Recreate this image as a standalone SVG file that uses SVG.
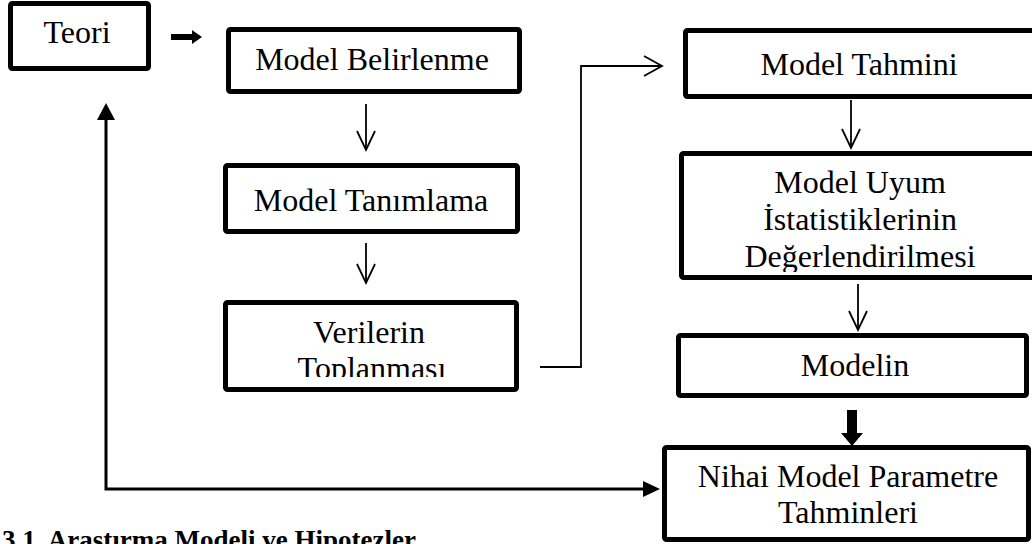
<svg xmlns="http://www.w3.org/2000/svg" width="1032" height="544" viewBox="0 0 1032 544">
<style>
.box{fill:#fff;stroke:#000;stroke-width:5;stroke-linejoin:round}
.t{font-family:"Liberation Serif","Times New Roman",serif;font-size:32px;fill:#000;text-anchor:middle}
.cap{font-family:"Liberation Serif","Times New Roman",serif;font-size:27px;font-weight:bold;fill:#000}
.thin{fill:none;stroke:#000;stroke-width:1.8}
.open{fill:none;stroke:#000;stroke-width:1.8;stroke-linejoin:miter}
.loop{fill:none;stroke:#000;stroke-width:3}
.solid{fill:#000;stroke:none}
</style>
<defs>
<clipPath id="clipVer"><rect x="228" y="305" width="286" height="72"/></clipPath>
<clipPath id="clipUyum"><rect x="684" y="156" width="348" height="116"/></clipPath>
</defs>
<rect width="1032" height="544" fill="#fff"/>
<g id="connectors">
<polygon class="solid" points="171,34 192,34 192,30 202,37 192,44 192,40 171,40"/>
<line class="thin" x1="366" y1="104" x2="366" y2="149"/>
<polyline class="open" points="357,131 366,150 375,131"/>
<line class="thin" x1="366" y1="243" x2="366" y2="282"/>
<polyline class="open" points="357,264 366,283 375,264"/>
<polyline class="thin" points="540,367 581,367 581,66 661,66"/>
<polyline class="open" points="644,56 662,66 644,76"/>
<line class="thin" x1="851" y1="100" x2="851" y2="147"/>
<polyline class="open" points="842,129 851,148 860,129"/>
<line class="thin" x1="858" y1="284" x2="858" y2="329"/>
<polyline class="open" points="849,311 858,330 867,311"/>
<polygon class="solid" points="847,410 857,410 857,433 863,433 852,446 841,433 847,433"/>
<polyline class="loop" points="106,118 106,489 645,489"/>
<polygon class="solid" points="97,120 106,103 115,120"/>
<polygon class="solid" points="643,481 660,489 643,497"/>
</g>
<g id="teori">
<rect class="box" x="10.5" y="3.5" width="138" height="65" rx="2"/>
<text class="t" x="77" y="43">Teori</text>
</g>
<g id="model-belirlenme">
<rect class="box" x="228.5" y="29.5" width="291" height="62" rx="2"/>
<text class="t" x="372" y="70">Model Belirlenme</text>
</g>
<g id="model-tanimlama">
<rect class="box" x="225.5" y="165.5" width="292" height="66" rx="2"/>
<text class="t" x="371" y="211">Model Tanımlama</text>
</g>
<g id="verilerin-toplanmasi">
<rect class="box" x="225.5" y="302.5" width="291" height="87" rx="2"/>
<g clip-path="url(#clipVer)">
<text class="t" x="369" y="343">Verilerin</text>
<text class="t" x="372" y="379">Toplanması</text>
</g>
</g>
<g id="model-tahmini">
<rect class="box" x="685.5" y="30.5" width="400" height="66" rx="2"/>
<text class="t" x="859" y="75">Model Tahmini</text>
</g>
<g id="model-uyum">
<rect class="box" x="681.5" y="153.5" width="400" height="124" rx="2"/>
<g clip-path="url(#clipUyum)">
<text class="t" x="860" y="193">Model Uyum</text>
<text class="t" x="860" y="230">İstatistiklerinin</text>
<text class="t" x="860" y="267">Değerlendirilmesi</text>
</g>
</g>
<g id="modelin">
<rect class="box" x="678.5" y="335.5" width="348" height="60" rx="2"/>
<text class="t" x="855" y="376">Modelin</text>
</g>
<g id="nihai">
<rect class="box" x="664.5" y="447.5" width="364" height="92" rx="2"/>
<text class="t" x="848" y="487">Nihai Model Parametre</text>
<text class="t" x="848" y="523">Tahminleri</text>
</g>
<text class="cap" x="2" y="549">3.1.  Araştırma Modeli ve Hipotezler</text>
</svg>
